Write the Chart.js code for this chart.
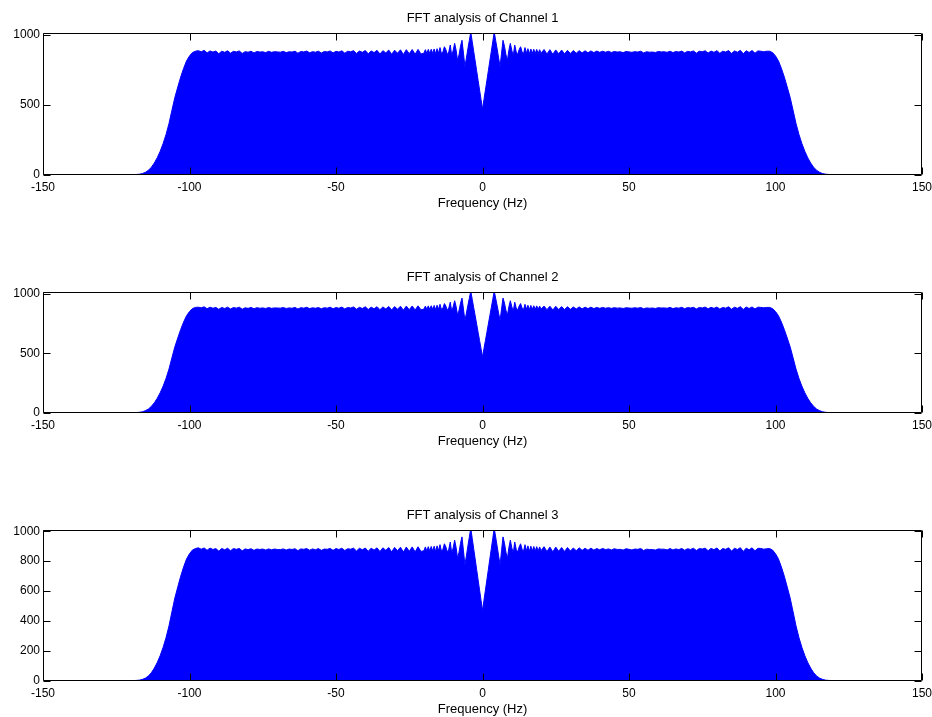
<!DOCTYPE html>
<html>
<head>
<meta charset="utf-8">
<script src="https://cdn.jsdelivr.net/npm/chart.js@4/dist/chart.umd.min.js"></script>
<style>
html,body{margin:0;padding:0;background:#fff;}
body{width:932px;height:717px;position:relative;overflow:hidden;}
canvas{position:absolute;left:0;}
</style>
</head>
<body>
<canvas id="c1" width="932" height="204" style="top:7px"></canvas>
<canvas id="c2" width="932" height="183" style="top:266px"></canvas>
<canvas id="c3" width="932" height="213" style="top:504px"></canvas>
<script>
// ---- data ----
const freqHz = [
-125,-124,-123,-122,-121,-120,-119,-118,-117,-116,-115,-114,-113,-112,-111,-110,-109,-108,-107,-106,
-105,-104,-103,-102,-101,-100,-99,-98,-97,-96,-95,-94,-93,-92,-91,-90,-89,-88,-87,-86,
-85,-84,-83,-82,-81,-80,-79,-78,-77,-76,-75,-74,-73,-72,-71,-70,-69,-68,-67,-66,
-65,-64,-63,-62,-61,-60,-59,-58,-57,-56,-55,-54,-53,-52,-51,-50,-49,-48,-47,-46,
-45,-44,-43,-42,-41,-40,-39,-38,-37,-36,-35,-34,-33,-32,-31,-30,-29,-28,-27,-26,
-25,-24,-23,-22,-21,
-20,-19.5,-19,-18.5,-18,-17.5,-17,-16.5,-16,-15.5,-15,-14.5,-14,-13.5,-13,-12.5,-12,-11.5,-11,-10.5,
-10,-9.5,-9,-8.5,-8,-7.5,-7,-6.5,-6,-5.5,-5,-4.5,-4,-3.5,-3,-2.5,-2,-1.5,-1,-0.5,
0,
0.5,1,1.5,2,2.5,3,3.5,4,4.5,5,5.5,6,6.5,7,7.5,8,8.5,9,9.5,10,
10.5,11,11.5,12,12.5,13,13.5,14,14.5,15,15.5,16,16.5,17,17.5,18,18.5,19,19.5,20,
21,22,23,24,25,26,27,28,29,30,31,32,33,34,35,36,37,38,39,40,
41,42,43,44,45,46,47,48,49,50,51,52,53,54,55,56,57,58,59,60,
61,62,63,64,65,66,67,68,69,70,71,72,73,74,75,76,77,78,79,80,
81,82,83,84,85,86,87,88,89,90,91,92,93,94,95,96,97,98,99,100,
101,102,103,104,105,106,107,108,109,110,111,112,113,114,115,116,117,118,119,120,
121,122,123,124,125
];

const channel1 = [
3,3,3,3,3,3,3,4,6,11,20,34,56,86,124,170,225,290,368,462,
554,628,700,762,815,850,874,884,
888,880,890,872,886,878,885,866,884,876,
887,870,883,879,886,868,881,877,884,872,
882,878,880,874,883,876,881,879,877,883,
874,880,878,884,870,882,879,885,873,881,
877,884,871,882,879,886,872,883,878,887,
870,884,880,888,868,885,876,889,866,886,
874,890,864,888,872,892,862,891,870,894,
860,895,866,896,862,897,864,
870,895,868,897,868,898,868,900,866,902,
870,910,866,880,916,895,860,880,928,852,
890,940,890,818,860,920,962,870,775,835,
900,960,1020,951,882,814,745,676,607,539,
470,
539,607,676,745,814,882,951,1020,960,900,
835,775,870,962,920,860,818,890,940,890,
852,928,880,860,895,916,880,866,910,870,
902,866,900,868,898,868,897,868,895,870,
896,864,895,862,893,866,892,865,890,868,
889,870,888,872,887,873,886,874,885,876,
884,877,883,875,882,878,880,874,882,879,
876,881,878,884,872,880,877,878,875,882,
879,880,876,884,874,882,878,885,872,883,
879,886,870,884,880,887,871,885,876,888,
869,884,878,889,868,886,877,890,866,887,
875,889,870,886,884,880,884,
884,874,850,815,762,700,628,554,462,368,290,225,170,124,86,56,34,20,11,6,4,
3,3,3,3,3,3,3
];

const channel2 = [
3,3,3,3,3,3,3,4,6,11,20,34,56,86,124,170,225,290,368,462,
554,628,700,762,815,850,874,884,
886,881,889,873,886,877,884,868,884,875,
886,871,883,878,886,869,881,876,884,873,
882,877,880,875,883,876,880,879,878,883,
875,880,877,884,871,882,878,885,874,881,
877,883,872,882,878,886,873,883,877,887,
871,884,879,888,869,885,875,889,867,886,
873,890,865,888,871,892,863,891,869,894,
861,895,865,896,863,897,864,
870,895,868,897,868,898,868,900,866,902,
870,910,866,880,916,895,860,880,928,852,
890,940,890,818,860,920,962,870,775,835,
900,960,1020,951,882,814,745,676,607,539,
470,
539,607,676,745,814,882,951,1020,960,900,
835,775,870,962,920,860,818,890,940,890,
852,928,880,860,895,916,880,866,910,870,
902,866,900,868,898,868,897,868,895,870,
895,865,894,863,893,866,891,866,890,868,
888,871,888,872,886,874,886,874,884,876,
884,877,882,876,882,878,880,875,881,879,
877,881,878,883,873,880,877,879,875,882,
879,880,877,884,874,881,878,885,873,883,
879,885,871,884,879,887,872,885,876,887,
870,884,878,889,869,886,876,890,867,887,
875,888,871,886,884,881,884,
884,874,850,815,762,700,628,554,462,368,290,225,170,124,86,56,34,20,11,6,4,
3,3,3,3,3,3,3
];

const channel3 = [
3,3,3,3,3,3,3,4,6,11,20,34,56,86,124,170,225,290,368,462,
554,628,700,762,815,850,874,884,
889,880,888,873,887,878,884,867,885,876,
886,870,884,879,885,869,882,877,883,872,
881,878,881,874,882,876,881,878,877,882,
874,881,878,883,870,882,879,884,873,882,
876,884,872,881,879,885,872,884,878,886,
871,883,880,887,868,886,876,888,866,887,
874,889,864,889,872,891,862,892,870,893,
861,894,866,895,862,896,865,
870,895,868,897,868,898,868,900,866,902,
870,910,866,880,916,895,860,880,928,852,
890,940,890,818,860,920,962,870,775,835,
900,960,1020,951,882,814,745,676,607,539,
470,
539,607,676,745,814,882,951,1020,960,900,
835,775,870,962,920,860,818,890,940,890,
852,928,880,860,895,916,880,866,910,870,
902,866,900,868,898,868,897,868,895,870,
897,864,894,862,894,866,891,865,891,868,
888,870,889,872,886,873,887,874,884,876,
885,877,882,875,883,878,879,874,883,879,
875,881,879,884,871,880,878,878,874,882,
880,880,875,884,875,882,877,885,873,883,
878,886,871,884,881,887,870,885,877,888,
868,884,879,889,867,886,878,890,865,887,
876,889,869,886,885,880,883,
884,874,850,815,762,700,628,554,462,368,290,225,170,124,86,56,34,20,11,6,4,
3,3,3,3,3,3,3
];

const xTicks = [-150, -100, -50, 0, 50, 100, 150];
const yTicksCoarse = [0, 500, 1000];
const yTicksFine = [0, 200, 400, 600, 800, 1000];
const panelTitles = ['FFT analysis of Channel 1', 'FFT analysis of Channel 2', 'FFT analysis of Channel 3'];
const xAxisTitle = 'Frequency (Hz)';

// ---- drawing ----
Chart.defaults.font.family = '"Liberation Sans", Arial, sans-serif';
Chart.defaults.color = '#000';

const boxPlugin = {
  id: 'matlabBox',
  afterLayout(chart) {
    // centre the panel title over the plot area, as MATLAB does
    const tb = chart.titleBlock;
    if (tb) { tb.left = chart.chartArea.left; tb.right = chart.chartArea.right; }
  },
  afterDatasetsDraw(chart, args, opts) {
    const {ctx, chartArea: a, scales} = chart;
    const L = Math.round(a.left) + 0.5, R = Math.round(a.right) - 0.5;
    const T = Math.round(a.top) + 0.5, B = Math.round(a.bottom) - 0.5;
    const tl = 7;
    ctx.save();
    ctx.strokeStyle = '#000';
    ctx.lineWidth = 1;
    ctx.beginPath();
    ctx.rect(L, T, R - L, B - T);
    for (const v of opts.xTicks) {
      const px = Math.round(scales.x.getPixelForValue(v)) + 0.5;
      ctx.moveTo(px, B); ctx.lineTo(px, B - tl);
      ctx.moveTo(px, T); ctx.lineTo(px, T + tl);
    }
    for (const v of opts.yTicks) {
      const py = Math.round(scales.y.getPixelForValue(v)) + 0.5;
      ctx.moveTo(L, py); ctx.lineTo(L + tl, py);
      ctx.moveTo(R, py); ctx.lineTo(R - tl, py);
    }
    ctx.stroke();
    ctx.restore();
  }
};

function makePanel(id, title, values, yTicks, yMax) {
  const pts = freqHz.map((f, i) => ({x: f, y: values[i]}));
  new Chart(document.getElementById(id), {
    type: 'line',
    data: {
      datasets: [{
        data: pts,
        borderColor: '#0000FF',
        backgroundColor: '#0000FF',
        borderWidth: 1,
        pointRadius: 0,
        fill: 'origin',
        tension: 0,
        clip: 0
      }]
    },
    options: {
      responsive: false,
      animation: false,
      devicePixelRatio: 1,
      layout: {padding: {left: 0, right: 10, top: 0, bottom: 0}},
      plugins: {
        legend: {display: false},
        tooltip: {enabled: false},
        title: {
          display: true,
          text: title,
          color: '#000',
          font: {size: 13, weight: 'normal', lineHeight: '14px'},
          padding: {top: 4, bottom: 8}
        },
        matlabBox: {xTicks: xTicks, yTicks: yTicks}
      },
      scales: {
        x: {
          type: 'linear',
          min: -150,
          max: 150,
          grid: {display: false, drawTicks: false},
          border: {display: false},
          afterBuildTicks: (s) => { s.ticks = xTicks.map(v => ({value: v})); },
          afterFit: (s) => { s.height = 36; s.paddingLeft = 0; s.paddingRight = 0; },
          ticks: {
            padding: 5,
            maxRotation: 0,
            autoSkip: false,
            font: {size: 12},
            color: '#000',
            callback: (v) => String(v)
          },
          title: {
            display: true,
            text: xAxisTitle,
            color: '#000',
            font: {size: 13, lineHeight: 1.1},
            padding: {top: 0, bottom: 0}
          }
        },
        y: {
          type: 'linear',
          min: 0,
          max: yMax,
          grid: {display: false, drawTicks: false},
          border: {display: false},
          afterBuildTicks: (s) => { s.ticks = yTicks.map(v => ({value: v})); },
          afterFit: (s) => { s.width = 43; s.paddingTop = 0; s.paddingBottom = 0; },
          ticks: {
            padding: 3,
            autoSkip: false,
            font: {size: 12},
            color: '#000',
            callback: (v) => String(v)
          }
        }
      }
    },
    plugins: [boxPlugin]
  });
}

makePanel('c1', panelTitles[0], channel1, yTicksCoarse, 1014);
makePanel('c2', panelTitles[1], channel2, yTicksCoarse, 1013);
makePanel('c3', panelTitles[2], channel3, yTicksFine, 1008);
</script>
</body>
</html>
